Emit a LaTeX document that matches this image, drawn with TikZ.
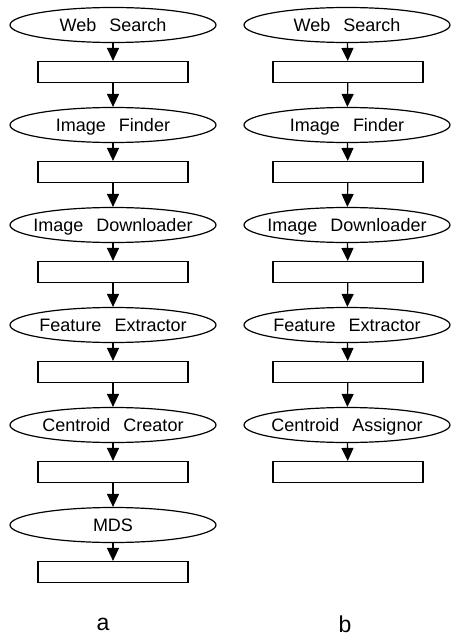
\documentclass[tikz,border=0pt]{standalone}
\usepackage{fontspec}
\setmainfont{Liberation Sans}
\usetikzlibrary{shapes.geometric,arrows.meta}
\begin{document}
\begin{tikzpicture}[x=1pt,y=-1pt,
  proc/.style={ellipse,draw,line width=1.2pt,minimum width=206pt,minimum height=35pt,inner sep=0pt,text height=14pt,text depth=1pt,font=\fontsize{18}{20}\selectfont},
  datbox/.style={rectangle,draw,line width=1.2pt,minimum width=150pt,minimum height=21pt,inner sep=0pt},
  flow/.style={line width=1.2pt,-{Triangle[width=12pt,length=13pt]}},
  captext/.style={font=\fontsize{23}{25}\selectfont}]
\useasboundingbox (0,0) rectangle (450,639);
\newcommand{\gp}{\hspace{13pt}}
\newcommand{\fx}[1]{\makebox[0pt]{#1}}
% column a
\node[proc] (a1) at (113,25) {\fx{Web\gp Search}};
\node[datbox] (ar1) at (113,72) {};
\node[proc] (a2) at (113,125) {\fx{Image\gp Finder}};
\node[datbox] (ar2) at (113,172) {};
\node[proc] (a3) at (113,225) {\fx{Image\gp Downloader}};
\node[datbox] (ar3) at (113,272) {};
\node[proc] (a4) at (113,325) {\fx{Feature\gp Extractor}};
\node[datbox] (ar4) at (113,372) {};
\node[proc] (a5) at (113,425) {\fx{Centroid\gp Creator}};
\node[datbox] (ar5) at (113,472) {};
\node[proc] (a6) at (113,525) {\fx{MDS}};
\node[datbox] (ar6) at (113,572) {};
\foreach \i/\j in {a1/ar1,ar1/a2,a2/ar2,ar2/a3,a3/ar3,ar3/a4,a4/ar4,ar4/a5,a5/ar5,ar5/a6,a6/ar6}
  \draw[flow] (\i) -- (\j);
% column b
\node[proc] (b1) at (347,25) {\fx{Web\gp Search}};
\node[datbox] (br1) at (348,72) {};
\node[proc] (b2) at (347,125) {\fx{Image\gp Finder}};
\node[datbox] (br2) at (348,172) {};
\node[proc] (b3) at (347,225) {\fx{Image\gp Downloader}};
\node[datbox] (br3) at (348,272) {};
\node[proc] (b4) at (347,325) {\fx{Feature\gp Extractor}};
\node[datbox] (br4) at (348,372) {};
\node[proc] (b5) at (347,425) {\fx{Centroid\gp Assignor}};
\node[datbox] (br5) at (348,472) {};
\foreach \i/\j in {b1/br1,br1/b2,b2/br2,br2/b3,b3/br3,br3/b4,b4/br4,br4/b5,b5/br5}
  \draw[flow] (\i) -- (\j);
% captions
\node[captext] (la) at (103,624) {a};
\node[captext] (lb) at (345,624) {b};
\end{tikzpicture}
\end{document}
